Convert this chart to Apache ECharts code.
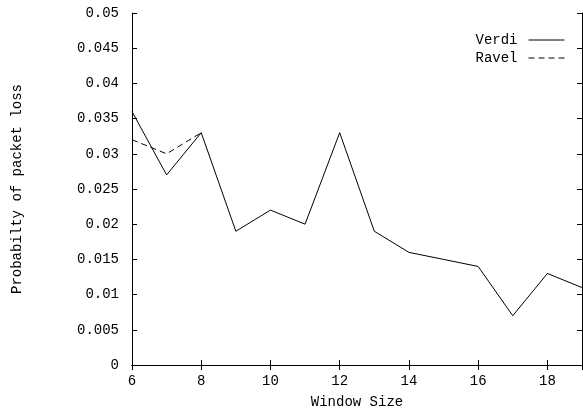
<!DOCTYPE html>
<html><head><meta charset="utf-8">
<script src="https://cdn.jsdelivr.net/npm/echarts@6/dist/echarts.min.js"></script>
<style>html,body{margin:0;padding:0;background:#fff}#c{width:583px;height:417px}</style>
</head><body><div id="c"></div>
<script>
const windowSizes = [6,7,8,9,10,11,12,13,14,15,16,17,18,19];
const verdi = [0.036,0.027,0.033,0.019,0.022,0.020,0.033,0.019,0.016,0.015,0.014,0.007,0.013,0.011];
const ravelX = [6,7,8];
const ravel = [0.032,0.030,0.033];
const yTicks = ['0','0.005','0.01','0.015','0.02','0.025','0.03','0.035','0.04','0.045','0.05'];

const font = 'Liberation Mono';
const fs = 14;
const chart = echarts.init(document.getElementById('c'));
const axisLine = {show:true, lineStyle:{color:'#000', width:1}};
const tick = {show:true, inside:true, length:5, lineStyle:{color:'#000'}};
chart.setOption({
  animation:false,
  grid:{left:132, right:1, top:13, bottom:52},
  legend:{
    orient:'vertical', right:13, top:28, align:'right', itemGap:4,
    itemWidth:36, itemHeight:14,
    itemStyle:{opacity:0},
    lineStyle:{width:1},
    textStyle:{fontFamily:font, fontSize:fs, color:'#000', padding:[0,6,0,0]},
    data:['Verdi','Ravel']
  },
  xAxis:[{
    type:'value', min:6, max:19, interval:2,
    name:'Window Size', nameLocation:'middle', nameGap:30,
    nameTextStyle:{fontFamily:font, fontSize:fs, color:'#000'},
    axisLine:axisLine, axisTick:tick, splitLine:{show:false},
    axisLabel:{fontFamily:font, fontSize:fs, color:'#000', margin:9, showMaxLabel:false,
      formatter:v=>String(v)}
  },{
    type:'value', position:'top', min:6, max:19, interval:2,
    axisLine:axisLine, axisTick:tick, splitLine:{show:false}, axisLabel:{show:false}
  }],
  yAxis:[{
    type:'value', min:0, max:0.05, interval:0.005,
    name:'Probabilty of packet loss', nameLocation:'middle', nameGap:108,
    nameTextStyle:{fontFamily:font, fontSize:fs, color:'#000'},
    axisLine:axisLine, axisTick:tick, splitLine:{show:false},
    axisLabel:{fontFamily:font, fontSize:fs, color:'#000', margin:13,
      formatter:(v)=>yTicks[Math.round(v/0.005)]}
  },{
    type:'value', position:'right', min:0, max:0.05, interval:0.005,
    axisLine:axisLine, axisTick:tick, splitLine:{show:false}, axisLabel:{show:false}
  }],
  series:[{
    name:'Verdi', type:'line', symbol:'none', color:'#000',
    lineStyle:{color:'#000', width:1},
    data:windowSizes.map((x,i)=>[x, verdi[i]])
  },{
    name:'Ravel', type:'line', symbol:'none', color:'#000',
    lineStyle:{color:'#000', width:1, type:[6,4]},
    data:ravelX.map((x,i)=>[x, ravel[i]])
  }]
});
</script></body></html>
